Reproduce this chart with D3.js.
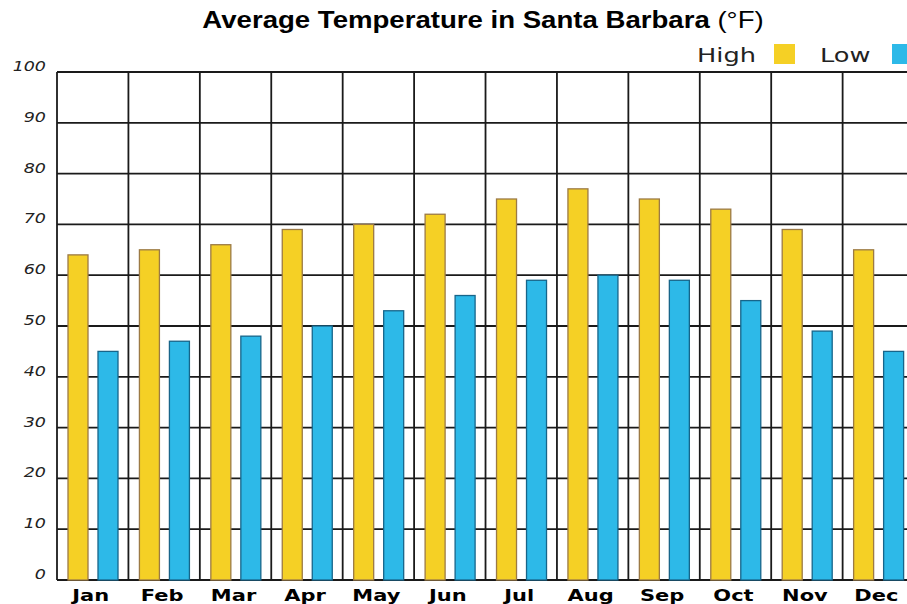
<!DOCTYPE html>
<meta charset="utf-8">
<script src="https://d3js.org/d3.v7.min.js"></script>
<style>
  body { margin: 0; background: #fff; }
</style>
<body>
<div id="my_dataviz"></div>
<script>
// data
var months = ["Jan","Feb","Mar","Apr","May","Jun","Jul","Aug","Sep","Oct","Nov","Dec"];
var highs = [64, 65, 66, 69, 70, 72, 75, 77, 75, 73, 69, 65];
var lows  = [45, 47, 48, 50, 53, 56, 59, 60, 59, 55, 49, 45];
var yTicks = [0, 10, 20, 30, 40, 50, 60, 70, 80, 90, 100];
var seriesNames = ["High", "Low"];
var seriesColors = ["#f5d025", "#2db9e8"];
var seriesStroke = ["#9c7a45", "#17658a"];

var W = 907, H = 604;
var plotLeft = 57, plotTop = 72, plotBottom = 580, plotRight = 57 + 12 * 71.42;

var svg = d3.select("#my_dataviz").append("svg")
    .attr("width", W).attr("height", H);

// title (the original picture is stretched sideways)
var title = svg.append("text")
    .attr("transform", "translate(483,28) scale(1.2,1)")
    .attr("text-anchor", "middle")
    .style("font-family", "Liberation Sans, Arial, sans-serif")
    .style("font-size", "23px");
title.append("tspan").style("font-weight", "bold").text("Average Temperature in Santa Barbara");
title.append("tspan").text(" (°F)");

var x = d3.scaleBand().domain(months).range([plotLeft, plotRight]);
var xs = d3.scaleBand().domain(seriesNames).range([11, 61]).paddingInner(1 / 3);
var y = d3.scaleLinear().domain([0, 100]).range([plotBottom, plotTop]);

// grid
var grid = svg.append("g").attr("stroke", "#1a1a1a").attr("stroke-width", 1.8);
grid.selectAll("line.h").data(yTicks).enter().append("line")
    .attr("x1", plotLeft).attr("x2", W)
    .attr("y1", function(d) { return y(d); }).attr("y2", function(d) { return y(d); });
grid.selectAll("line.v").data(months).enter().append("line")
    .attr("x1", function(d) { return x(d); }).attr("x2", function(d) { return x(d); })
    .attr("y1", plotTop).attr("y2", plotBottom);

// bars
var data = [];
months.forEach(function(m, i) {
  data.push({m: m, s: 0, v: highs[i]});
  data.push({m: m, s: 1, v: lows[i]});
});
svg.append("g").selectAll("rect").data(data).enter().append("rect")
    .attr("x", function(d) { return x(d.m) + xs(seriesNames[d.s]); })
    .attr("width", xs.bandwidth())
    .attr("y", function(d) { return y(d.v); })
    .attr("height", function(d) { return y(0) - y(d.v); })
    .attr("fill", function(d) { return seriesColors[d.s]; })
    .attr("stroke", function(d) { return seriesStroke[d.s]; })
    .attr("stroke-width", 1.3);

// y labels
svg.append("g").selectAll("text").data(yTicks).enter().append("text")
    .attr("transform", function(d) { return "translate(46," + (y(d) - 1) + ") scale(1.25,1)"; })
    .attr("text-anchor", "end")
    .attr("fill", "#222")
    .style("font-family", "DejaVu Sans, Verdana, sans-serif")
    .style("font-style", "italic")
    .style("font-size", "14px")
    .text(function(d) { return d; });

// x labels
svg.append("g").selectAll("text").data(months).enter().append("text")
    .attr("transform", function(d) {
      return "translate(" + (x(d) + x.bandwidth() / 2 - 2) + ",601) scale(1.4,1)";
    })
    .attr("text-anchor", "middle")
    .style("font-family", "DejaVu Sans, Verdana, sans-serif")
    .style("font-weight", "bold")
    .style("font-size", "15px")
    .text(function(d) { return d; });

// legend
var legX = [697, 820], boxX = [774, 892];
seriesNames.forEach(function(s, i) {
  svg.append("text")
      .attr("transform", "translate(" + legX[i] + ",62) scale(1.35,1)")
      .attr("fill", "#222")
      .style("font-family", "DejaVu Sans, Verdana, sans-serif")
      .style("font-size", "19px")
      .text(s);
  svg.append("rect")
      .attr("x", boxX[i]).attr("y", 44).attr("width", 21).attr("height", 20)
      .attr("fill", seriesColors[i]);
});
</script>
</body>
